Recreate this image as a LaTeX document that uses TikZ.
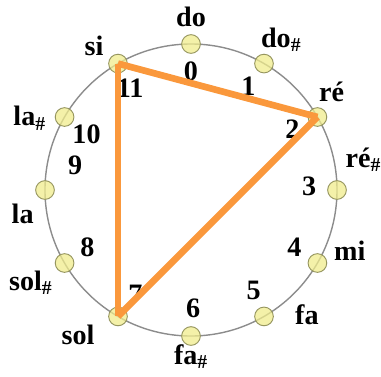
\documentclass[tikz,border=0pt]{standalone}
\usepackage{fontspec}
\setmainfont{Liberation Serif}
\usetikzlibrary{calc}

\definecolor{notefill}{RGB}{240,236,140}
\definecolor{notedraw}{RGB}{150,150,95}
\definecolor{triorange}{RGB}{250,152,60}
\newcommand{\sh}{\textsubscript{\#}}

\begin{document}
\begin{tikzpicture}[
    font=\bfseries\fontsize{24}{27}\selectfont,
    note/.style={circle, draw=notedraw, fill=notefill, fill opacity=0.75,
        line width=0.8pt, minimum size=0.56cm, inner sep=0pt},
    lbl/.style={inner sep=0pt},
    tri/.style={triorange, line width=0.2cm}
]
\useasboundingbox (-5.73,-5.58) rectangle (5.70,5.70);
\draw[gray!90, line width=1.2pt] (0,0) circle (4.38);
% notes: index / name / name angle / name radius / number angle
\foreach \k/\name/\na/\nr/\ma in {0/do/90/5.2/90, 1/{do\sh}/59/5.25/61,
    2/ré/35/5.15/31, 3/{ré\sh}/10/5.25/2, 4/mi/-21/5.1/-29, 5/fa/-47/5.1/-58,
    6/{fa\sh}/-90/5.0/-89, 7/sol/-128/5.5/-118, 8/{sol\sh}/-150/5.55/-151,
    9/la/-172/5.1/168, 10/{la\sh}/156/5.3/152, 11/si/124/5.2/121}{
  \node[note] (n\k) at (90-30*\k:4.38) {};
  \node[lbl] (name\k) at (\na:\nr) {\name};
  \node[lbl] (num\k) at (\ma:3.55) {\k};
}
% triangle si - re - sol
\draw[tri] (n11.center) -- (n2.center);
\draw[tri] (n2.center) -- (n7.center);
\draw[tri] (n7.center) -- (n11.center);
\end{tikzpicture}
\end{document}
